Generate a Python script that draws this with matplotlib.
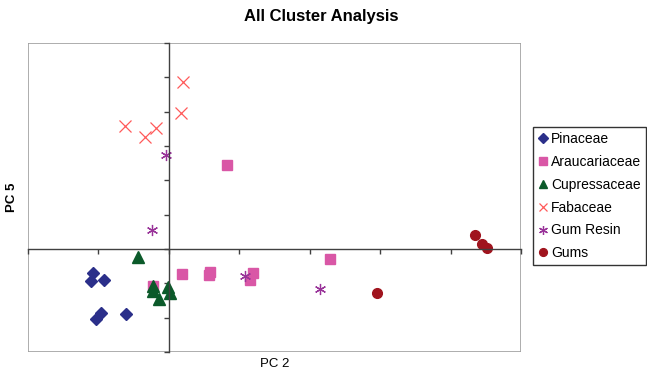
import matplotlib.pyplot as plt
from matplotlib.patches import Rectangle

plt.rcParams["font.family"] = ["Liberation Sans", "DejaVu Sans"]

# PCA scores (PC 2, PC 5)
pinaceae_x = [-1.08, -1.10, -0.92, -0.96, -1.04, -0.61]
pinaceae_y = [-0.71, -0.92, -0.90, -1.86, -2.05, -1.90]

arauc_x = [0.83, 0.19, 0.59, 0.57, 1.20, 1.15, -0.23, 2.29]
arauc_y = [2.44, -0.73, -0.67, -0.76, -0.69, -0.90, -1.08, -0.30]

cupress_x = [-0.44, -0.23, -0.23, -0.14, -0.01, 0.01]
cupress_y = [-0.22, -1.08, -1.22, -1.45, -1.12, -1.28]

fabaceae_x = [0.20, 0.17, -0.62, -0.34, -0.18]
fabaceae_y = [4.86, 3.97, 3.58, 3.26, 3.54]

resin_x = [-0.04, -0.24, 1.08, 2.14]
resin_y = [2.73, 0.55, -0.79, -1.17]

gums_x = [4.34, 4.44, 4.51, 2.95]
gums_y = [0.42, 0.14, 0.02, -1.27]

fig = plt.figure(figsize=(6.47, 3.70), dpi=100)
ax = fig.add_axes([0.0433, 0.0486, 0.762, 0.835])

ax.plot(pinaceae_x, pinaceae_y, "D", ms=6, color="#2B2F8A", label="Pinaceae", clip_on=False)
ax.plot(arauc_x, arauc_y, "s", ms=7, color="#D957A6", label="Araucariaceae", clip_on=False)
ax.plot(cupress_x, cupress_y, "^", ms=8, color="#0B5A2A", label="Cupressaceae", clip_on=False)
ax.plot(fabaceae_x, fabaceae_y, "x", ms=8, mew=0.9, color="#FF5A5A", label="Fabaceae", clip_on=False)
ax.plot(resin_x, resin_y, marker=(6, 2, 0), ls="none", ms=8, mew=0.9, color="#993399",
        label="Gum Resin", clip_on=False)
ax.plot(gums_x, gums_y, "o", ms=7, color="#A0141E", label="Gums", clip_on=False)

ax.set_xlim(-2, 5)
ax.set_ylim(-3, 6)
ax.set_xticks(range(-2, 6))
ax.set_yticks(range(-3, 7))
ax.set_xticklabels([])
ax.set_yticklabels([])

for s in ["top", "right"]:
    ax.spines[s].set_visible(False)
for s in ["left", "bottom"]:
    ax.spines[s].set_position(("data", 0))
    ax.spines[s].set_color("#404040")
    ax.spines[s].set_linewidth(1.0)
ax.tick_params(direction="out", length=3.5, width=1, color="#404040")
ax.add_patch(Rectangle((0, 0), 1, 1, transform=ax.transAxes, fill=False,
                       ec="#A0A0A0", lw=1.2, zorder=0))

fig.text(0.497, 0.955, "All Cluster Analysis", ha="center", va="center",
         fontsize=12, fontweight="bold")
fig.text(0.019, 0.468, "PC 5", ha="center", va="center", rotation=90,
         fontsize=9.5, fontweight="bold")
fig.text(0.424, 0.016, "PC 2", ha="center", va="center", fontsize=9.5)

leg = fig.legend(loc="upper left", bbox_to_anchor=(0.824, 0.657), frameon=True,
                 fancybox=False, edgecolor="black", fontsize=10, handlelength=0.7,
                 handletextpad=0.22, labelspacing=0.64, borderpad=0.36,
                 borderaxespad=0, markerscale=0.8)
leg.get_frame().set_linewidth(1.0)

fig.savefig("out.png", dpi=100)
